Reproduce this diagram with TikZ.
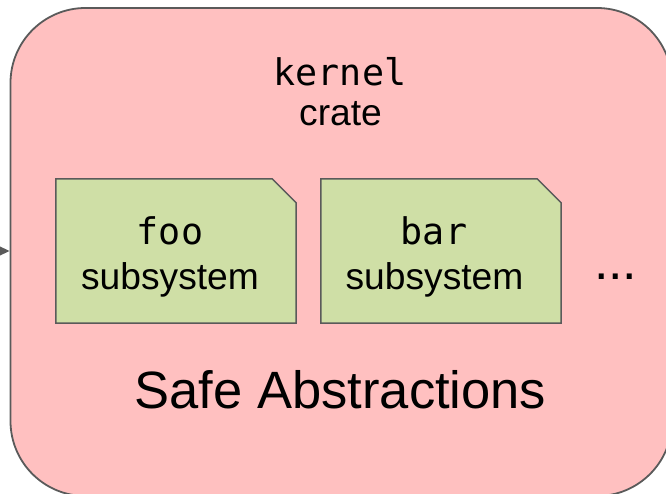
\documentclass[tikz,border=0pt]{standalone}
\usepackage{fontspec}
\setmainfont{Liberation Sans}
\setsansfont{Liberation Sans}
\newfontfamily\monof{DejaVu Sans Mono}
\usetikzlibrary{arrows.meta}
\definecolor{pinkfill}{HTML}{FFC0C0}
\definecolor{greenfill}{HTML}{CFDFA6}
\definecolor{edgegray}{HTML}{5A5A5A}
\tikzset{
  outerbox/.style={draw=edgegray, fill=pinkfill, line width=1.8pt, rounded corners=75pt, inner sep=0pt},
  subframe/.style={inner sep=0pt, minimum width=240pt, minimum height=144pt},
  subbox/.style={draw=edgegray, fill=greenfill, line width=1.5pt, line join=miter},
  monotext/.style={anchor=base, inner sep=0pt, font=\monof\fontsize{36.7}{44}\selectfont},
  sanstext/.style={anchor=base, inner sep=0pt, font=\fontsize{37.2}{44}\selectfont},
  bigtext/.style={anchor=base, inner sep=0pt, font=\fontsize{52.5}{60}\selectfont},
  dotstext/.style={anchor=base, inner sep=0pt, font=\fontsize{52}{60}\selectfont},
  inarrow/.style={draw=edgegray, line width=1.5pt, -{Triangle[length=10pt,width=9pt]}}
}
\begin{document}
\begin{tikzpicture}[x=1pt,y=-1pt]
\useasboundingbox (0,0) rectangle (666,494);
\node[outerbox, minimum width=661.5pt, minimum height=488pt] (kernelbox) at (341.25,252) {};
\coordinate (src) at (-30,251);
\draw[inarrow] (src) -- (kernelbox.west |- src);

\node[monotext] (kerneltxt) at (340,86) {kernel};
\node[sanstext] (cratetxt) at (340.5,125.5) {crate};

% foo subsystem
\node[subframe] (foo) at (176,251) {};
\draw[subbox] (foo.south west) -- (foo.north west) -- ([xshift=-24pt]foo.north east)
  -- ([yshift=-24pt]foo.north east) -- (foo.south east) -- cycle;
\node[monotext] (footxt) at (170,245) {foo};
\node[sanstext] (foosub) at (170,289) {subsystem};

% bar subsystem
\node[subframe] (bar) at (441,251) {};
\draw[subbox] (bar.south west) -- (bar.north west) -- ([xshift=-24pt]bar.north east)
  -- ([yshift=-24pt]bar.north east) -- (bar.south east) -- cycle;
\node[monotext] (bartxt) at (434,245) {bar};
\node[sanstext] (barsub) at (434.5,289) {subsystem};

\node[dotstext] (dots) at (615.7,279) {...};

\node[bigtext] (safetxt) at (340.5,408) {Safe Abstractions};
\end{tikzpicture}
\end{document}
